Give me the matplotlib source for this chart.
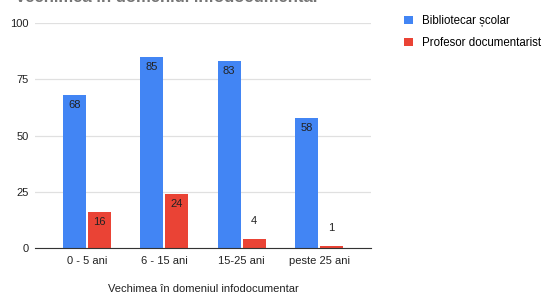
import numpy as np
import matplotlib.pyplot as plt

categories = ['0 - 5 ani', '6 - 15 ani', '15-25 ani', 'peste 25 ani']
bibliotecar = [68, 85, 83, 58]
profesor = [16, 24, 4, 1]
series_names = ['Bibliotecar școlar', 'Profesor documentarist']

plt.rcParams['font.family'] = ['Liberation Sans', 'DejaVu Sans']

fig = plt.figure(figsize=(5.43, 2.95), dpi=100)
ax = fig.add_axes([35 / 543, 1 - 248 / 295, 336 / 543, 225 / 295])

x = np.arange(len(categories))
w = 0.30
gap = 0.011
b1 = ax.bar(x - w / 2 - gap, bibliotecar, w, color='#4285f4', label=series_names[0], zorder=3)
b2 = ax.bar(x + w / 2 + gap, profesor, w, color='#ea4335', label=series_names[1], zorder=3)

for bars in (b1, b2):
    for rect in bars:
        h = rect.get_height()
        cx = rect.get_x() + rect.get_width() / 2
        if h >= 10:
            ax.text(cx, h - 2.3, f'{h:g}', ha='center', va='top', fontsize=8, color='#222222', zorder=4)
        else:
            ax.text(cx, h + 8, f'{h:g}', ha='center', va='center', fontsize=8, color='#222222', zorder=4)

ax.set_xlim(-0.671, 3.671)
ax.set_ylim(0, 100)
ax.set_yticks([0, 25, 50, 75, 100])
ax.set_xticks(x)
ax.set_xticklabels(categories)
ax.tick_params(length=0, labelsize=8, colors='#222222')
ax.tick_params(axis='y', pad=4.5)
ax.tick_params(axis='x', pad=6)
ax.grid(axis='y', color='#e0e0e0', linewidth=0.9, zorder=0)
for s in ['top', 'right', 'left']:
    ax.spines[s].set_visible(False)
ax.spines['bottom'].set_color('#333333')
ax.spines['bottom'].set_zorder(5)
ax.set_xlabel('Vechimea în domeniul infodocumentar', fontsize=8, color='#222222', labelpad=13)

ax.legend(loc='upper left', bbox_to_anchor=(404 / 543, 1 - 15 / 295), bbox_transform=fig.transFigure,
          frameon=False, fontsize=8.3, handlelength=0.75, handleheight=0.75, handletextpad=0.8,
          labelspacing=0.85, borderaxespad=0, borderpad=0)

# titlul e taiat sus, ca in original
fig.text(15 / 543, 1 - 2 / 295, 'Vechimea în domeniul infodocumentar', fontsize=12, fontweight='bold',
         color='#757575', ha='left', va='baseline')

fig.savefig('out.png', dpi=100)
